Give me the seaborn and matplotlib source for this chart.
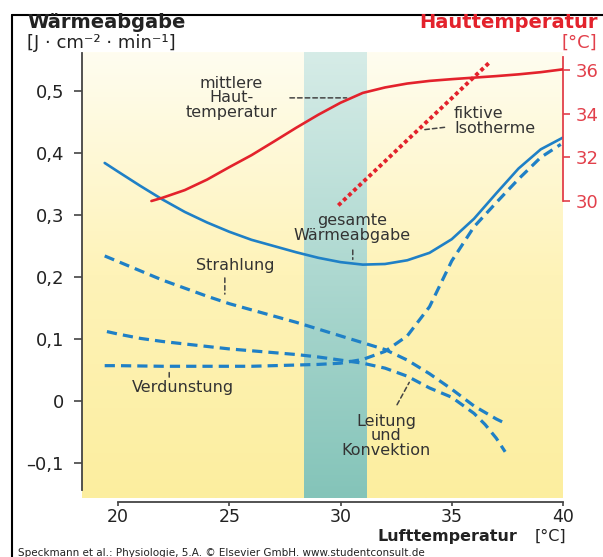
import numpy as np
import pandas as pd
import matplotlib
matplotlib.use("Agg")
import matplotlib.pyplot as plt
import seaborn as sns
from matplotlib.colors import LinearSegmentedColormap

# Lufttemperatur [°C] -> Waermeabgabe [J/cm2/min]
x_gesamt = [19.4, 20, 21, 22, 23, 24, 25, 26, 27, 28, 29, 30, 31, 32, 33, 34, 35, 36, 37, 38, 39, 40]
y_gesamt = [0.384, 0.370, 0.347, 0.325, 0.305, 0.288, 0.273, 0.260, 0.250, 0.240, 0.231,
            0.224, 0.220, 0.221, 0.227, 0.239, 0.261, 0.294, 0.335, 0.375, 0.406, 0.425]

x_strahlung = [19.4, 20, 21, 22, 23, 24, 25, 26, 27, 28, 29, 30, 31, 32, 33, 34, 35, 36, 37, 37.4]
y_strahlung = [0.234, 0.225, 0.210, 0.195, 0.182, 0.169, 0.157, 0.147, 0.137, 0.127, 0.116,
               0.105, 0.094, 0.083, 0.066, 0.044, 0.019, -0.008, -0.029, -0.036]

x_leitung = [19.5, 20, 21, 22, 23, 24, 25, 26, 27, 28, 29, 30, 31, 32, 33, 34, 35, 36, 36.5, 37, 37.4]
y_leitung = [0.112, 0.108, 0.101, 0.096, 0.092, 0.088, 0.084, 0.081, 0.078, 0.075, 0.071,
             0.066, 0.061, 0.053, 0.040, 0.021, 0.006, -0.020, -0.038, -0.060, -0.082]

x_verdunstung = [19.4, 20, 22, 24, 26, 27, 28, 29, 30, 31, 32, 33, 34, 35, 36, 37, 38, 39, 39.9]
y_verdunstung = [0.057, 0.057, 0.056, 0.056, 0.056, 0.057, 0.058, 0.059, 0.061, 0.067, 0.080,
                 0.105, 0.152, 0.226, 0.281, 0.320, 0.358, 0.393, 0.414]

# Hauttemperatur [°C]
x_haut = [21.5, 22, 23, 24, 25, 26, 27, 28, 29, 30, 31, 32, 33, 34, 35, 36, 37, 38, 39, 40]
t_haut = [30.0, 30.15, 30.5, 30.98, 31.55, 32.1, 32.72, 33.35, 33.95, 34.5, 34.95, 35.2,
          35.38, 35.5, 35.58, 35.65, 35.72, 35.8, 35.9, 36.03]

x_isotherme = [29.9, 31, 32, 33, 34, 35, 36, 36.7]
t_isotherme = [29.8, 30.86, 31.82, 32.79, 33.75, 34.71, 35.68, 36.35]

neutral_zone = (28.35, 31.15)
y_ticks = [-0.1, 0, 0.1, 0.2, 0.3, 0.4, 0.5]
y_ticklabels = ["\u20130,1", "0", "0,1", "0,2", "0,3", "0,4", "0,5"]
x_ticks = [20, 25, 30, 35, 40]
t_ticks = [30, 32, 34, 36]

blue = "#1f80c6"
red = "#e3222c"
red_axis = "#e2404b"
txt = "#333333"

sns.set_style("white")
plt.rcParams["font.family"] = ["DejaVu Sans"]

W, H = 603, 557
fig = plt.figure(figsize=(W / 100, H / 100), dpi=100)
ax = fig.add_axes([82 / W, 1 - 498 / H, (563 - 82) / W, (498 - 52) / H])

xlim = (18.38, 40)
ylim = (-0.1565, 0.563)

# background gradients
bg = LinearSegmentedColormap.from_list("bg", ["#fffdf0", "#fef3b8", "#fcee9f"])
band = LinearSegmentedColormap.from_list("band", ["#d6ece7", "#84c4b9"])
grad = np.linspace(0, 1, 256).reshape(-1, 1)
ax.imshow(grad, cmap=bg, extent=[xlim[0], xlim[1], ylim[0], ylim[1]], aspect="auto", zorder=0)
ax.imshow(grad, cmap=band, extent=[neutral_zone[0], neutral_zone[1], ylim[0], ylim[1]],
          aspect="auto", zorder=0.5)

dash = (0, (3.2, 1.9))
sns.lineplot(x=x_strahlung, y=y_strahlung, ax=ax, color=blue, lw=2.3, linestyle=dash, zorder=3)
sns.lineplot(x=x_leitung, y=y_leitung, ax=ax, color=blue, lw=2.3, linestyle=dash, zorder=3)
sns.lineplot(x=x_verdunstung, y=y_verdunstung, ax=ax, color=blue, lw=2.3, linestyle=dash, zorder=3)
sns.lineplot(x=x_gesamt, y=y_gesamt, ax=ax, color=blue, lw=1.9, zorder=4)

ax.set_xlim(xlim)
ax.set_ylim(ylim)

# right axis: skin temperature, aligned to the left scale
def v2t(v):
    return 30 + (v - 0.3226) / 0.03523

ax2 = ax.twinx()
sns.lineplot(x=x_haut, y=t_haut, ax=ax2, color=red, lw=1.9, zorder=5)
sns.lineplot(x=x_isotherme, y=t_isotherme, ax=ax2, color=red, lw=2.8,
             linestyle=(0, (1, 0.8)), zorder=5)
ax2.set_ylim(v2t(ylim[0]), v2t(ylim[1]))
ax2.set_xlim(xlim)

for s in ["top", "right"]:
    ax.spines[s].set_visible(False)
ax.spines["left"].set_bounds(-0.144, 0.561)
ax.spines["left"].set_color("#444444")
ax.spines["left"].set_linewidth(1.3)
ax.spines["bottom"].set_position(("outward", 3))
ax.spines["bottom"].set_bounds(20, 40)
ax.spines["bottom"].set_color("#444444")
ax.spines["bottom"].set_linewidth(1.3)

ax.set_yticks(y_ticks)
ax.set_yticklabels(y_ticklabels)
ax.set_xticks(x_ticks)
ax.set_xticklabels([str(v) for v in x_ticks])
ax.tick_params(axis="y", direction="out", length=6, width=1.2, color="#444444",
               labelsize=13, pad=7, labelcolor="#222222", left=True)
ax.tick_params(axis="x", direction="out", length=3, width=1.2, color="#444444",
               labelsize=12.5, pad=1, labelcolor="#222222", bottom=True)
ax.set_xlabel("")
ax.set_ylabel("")

for s in ["top", "left", "bottom"]:
    ax2.spines[s].set_visible(False)
ax2.spines["right"].set_bounds(30, 36.6)
ax2.spines["right"].set_color(red_axis)
ax2.spines["right"].set_linewidth(1.3)
ax2.set_yticks(t_ticks)
ax2.set_yticklabels([str(t) for t in t_ticks])
ax2.tick_params(axis="y", direction="out", length=5, width=1.2, color=red_axis,
                labelsize=13, pad=4, labelcolor=red_axis, right=True)
ax2.set_ylabel("")

# annotations
ann = dict(fontsize=11.5, color=txt, linespacing=0.95)
leader = dict(arrowstyle="-", color="#444444", lw=1.1, linestyle=(0, (3, 2)))

ax.text(25.1, 0.489, "mittlere\nHaut-\ntemperatur", ha="center", va="center", zorder=6, **ann)
ax.annotate("", xy=(30.4, 0.489), xytext=(27.6, 0.489), arrowprops=leader, zorder=6)

ax.text(35.1, 0.452, "fiktive\nIsotherme", ha="left", va="center", zorder=6, **ann)
ax.annotate("", xy=(33.6, 0.437), xytext=(34.8, 0.442), arrowprops=leader, zorder=6)

ax.text(30.5, 0.279, "gesamte\nWärmeabgabe", ha="center", va="center", zorder=6, **ann)
ax.annotate("", xy=(30.55, 0.224), xytext=(30.55, 0.248), arrowprops=leader, zorder=6)

ax.text(25.28, 0.219, "Strahlung", ha="center", va="center", zorder=6, **ann)
ax.annotate("", xy=(24.8, 0.168), xytext=(24.8, 0.203), arrowprops=leader, zorder=6)

ax.text(22.9, 0.021, "Verdunstung", ha="center", va="center", zorder=6, **ann)
ax.annotate("", xy=(22.3, 0.055), xytext=(22.3, 0.034), arrowprops=leader, zorder=6)

ax.text(32.05, -0.056, "Leitung\nund\nKonvektion", ha="center", va="center", zorder=6, **ann)
ax.annotate("", xy=(33.15, 0.034), xytext=(32.48, -0.010), arrowprops=leader, zorder=6)

# axis titles in figure pixels
def fx(px):
    return px / W

def fy(py):
    return 1 - py / H

fig.text(fx(27), fy(23), "Wärmeabgabe", ha="left", va="center", fontsize=14,
         fontweight="bold", color="#222222")
fig.text(fx(27), fy(43), "[J · cm\u207b\u00b2 · min\u207b\u00b9]", ha="left", va="center",
         fontsize=13, color="#222222")
fig.text(fx(598), fy(23), "Hauttemperatur", ha="right", va="center", fontsize=14,
         fontweight="bold", color=red)
fig.text(fx(597), fy(43), "[°C]", ha="right", va="center", fontsize=13, color=red_axis)
fig.text(fx(517), fy(536.5), "Lufttemperatur", ha="right", va="center", fontsize=11.5,
         fontweight="bold", color="#222222")
fig.text(fx(535), fy(536.5), "[°C]", ha="left", va="center", fontsize=11.5, color="#222222")
fig.text(fx(18), fy(557.5), "Speckmann et al.: Physiologie, 5.A. © Elsevier GmbH. www.studentconsult.de",
         ha="left", va="bottom", fontsize=7.5, color="#222222")

# frame
fig.add_artist(plt.Line2D([fx(12), 1], [fy(15), fy(15)], color="black", lw=1.5))
fig.add_artist(plt.Line2D([fx(12), fx(12)], [fy(15), 0], color="black", lw=1.5))

fig.savefig("out.png", dpi=100)
